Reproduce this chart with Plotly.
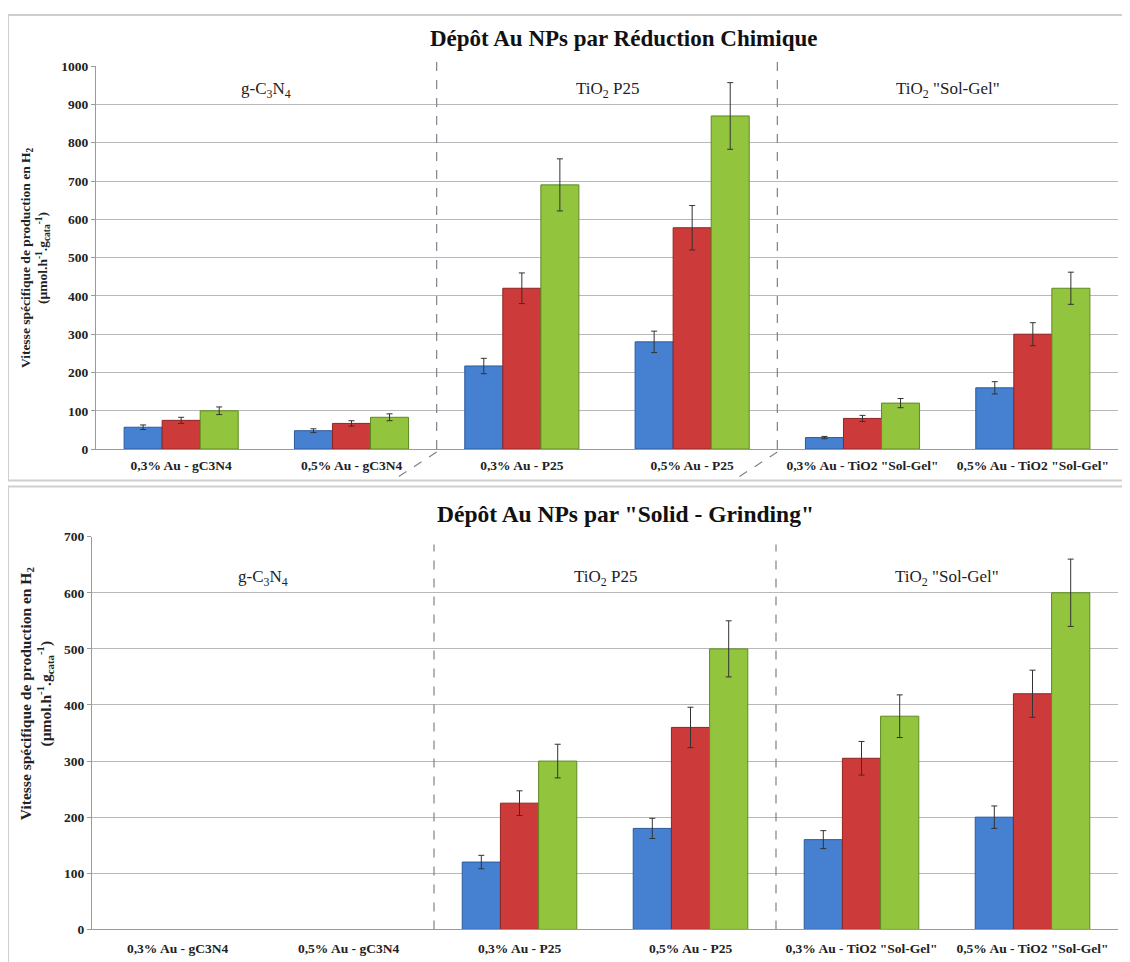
import plotly.graph_objects as go

categories = ["0,3% Au - gC3N4", "0,5% Au - gC3N4", "0,3% Au - P25", "0,5% Au - P25",
              "0,3% Au - TiO2 \"Sol-Gel\"", "0,5% Au - TiO2 \"Sol-Gel\""]

# Top panel: chemical reduction
top_blue = [57, 48, 217, 280, 30, 160]
top_red = [75, 67, 420, 578, 80, 300]
top_green = [100, 83, 690, 870, 120, 420]
top_blue_err = [6, 5, 20, 28, 3, 16]
top_red_err = [8, 7, 40, 58, 8, 30]
top_green_err = [10, 9, 68, 87, 12, 42]

# Bottom panel: solid grinding
bot_blue = [None, None, 120, 180, 160, 200]
bot_red = [None, None, 225, 360, 305, 420]
bot_green = [None, None, 300, 500, 380, 600]
bot_blue_err = [0, 0, 12, 18, 16, 20]
bot_red_err = [0, 0, 22, 36, 30, 42]
bot_green_err = [0, 0, 30, 50, 38, 60]

group_labels = ["g-C<sub>3</sub>N<sub>4</sub>", "TiO<sub>2</sub> P25", "TiO<sub>2</sub> \"Sol-Gel\""]

colors = ["#4680d0", "#cc3a3a", "#92c43e"]
lines = ["#2c5a9c", "#8e2424", "#5f8a22"]

# page body has an 8px margin: the figure starts at (8, 8) in the window
OFF = 8
W, H = 1130 - OFF, 962 - OFF


def px(x):
    return (x - OFF) / W


def py(y):
    return 1 - (y - OFF) / H


fig = go.Figure()


def add_bars(vals_list, errs_list, xa, ya):
    for vals, errs, c, lc in zip(vals_list, errs_list, colors, lines):
        fig.add_trace(go.Bar(
            x=categories, y=vals, xaxis=xa, yaxis=ya,
            marker=dict(color=c, line=dict(color=lc, width=1)),
            error_y=dict(type="data", array=errs, color="#333333", thickness=1, width=3),
            showlegend=False,
        ))


add_bars([top_blue, top_red, top_green], [top_blue_err, top_red_err, top_green_err], "x", "y")
add_bars([bot_blue, bot_red, bot_green], [bot_blue_err, bot_red_err, bot_green_err], "x2", "y2")

serif = "Liberation Serif"
bold_tick = dict(family=serif, size=13.5, color="#222222", weight="bold")

axis_common = dict(showline=True, linecolor="#9a9a9a", linewidth=1, ticks="outside",
                   ticklen=4, tickcolor="#9a9a9a")

fig.update_layout(
    width=W, height=H,
    margin=dict(l=0, r=0, t=0, b=0),
    paper_bgcolor="white", plot_bgcolor="white",
    barmode="group", bargap=0.33, bargroupgap=0,
    font=dict(family=serif),
    xaxis=dict(domain=[px(96), px(1118)], anchor="y", type="category",
               tickfont=bold_tick, ticks="", ticklabelstandoff=4,
               showline=True, linecolor="#9a9a9a"),
    yaxis=dict(domain=[py(449), py(60)], anchor="x", range=[0, 1000], dtick=100,
               gridcolor="#b8b8b8", gridwidth=1, tickfont=bold_tick, **axis_common),
    xaxis2=dict(domain=[px(92), px(1118)], anchor="y2", type="category",
                tickfont=bold_tick, ticks="", ticklabelstandoff=6,
                showline=True, linecolor="#9a9a9a"),
    yaxis2=dict(domain=[py(937), py(538)], anchor="x2", range=[0, 700], dtick=100,
                gridcolor="#b8b8b8", gridwidth=1, tickfont=bold_tick, **axis_common),
)

shapes = []
# panel borders
shapes.append(dict(type="rect", xref="paper", yref="paper", x0=px(8), x1=px(1126),
                   y0=py(481), y1=py(8), line=dict(color="#cfcfcf", width=2)))
shapes.append(dict(type="rect", xref="paper", yref="paper", x0=px(8), x1=px(1126),
                   y0=py(975), y1=py(487), line=dict(color="#cfcfcf", width=2)))
# group separators
for xv in [1.5, 3.5]:
    shapes.append(dict(type="line", xref="x", yref="y domain", x0=xv, x1=xv, y0=0, y1=1.03,
                       line=dict(color="#808090", width=1.2, dash="dash")))
    shapes.append(dict(type="line", xref="x2", yref="y2 domain", x0=xv, x1=xv, y0=0, y1=0.98,
                       line=dict(color="#808090", width=1.2, dash="dash")))
    shapes.append(dict(type="line", xref="x", yref="paper", x0=xv, x1=xv - 0.26,
                       y0=py(452), y1=py(481), line=dict(color="#808090", width=1.2, dash="dash")))
fig.update_layout(shapes=shapes)

ann = []
ann.append(dict(text="<b>Dépôt Au NPs par Réduction Chimique</b>", xref="paper", yref="paper",
                x=px(623), y=py(32), xanchor="center", yanchor="middle", showarrow=False,
                font=dict(family=serif, size=23, color="#111111")))
ann.append(dict(text="<b>Dépôt Au NPs par \"Solid - Grinding\"</b>", xref="paper", yref="paper",
                x=px(625), y=py(515), xanchor="center", yanchor="middle", showarrow=False,
                font=dict(family=serif, size=23.5, color="#111111")))
ytitle = ("<b>Vitesse spécifique de production en H<sub>2</sub><br>"
          "(µmol.h<sup>-1</sup>.g<sub>cata</sub><sup>-1</sup>)</b>")
ann.append(dict(text=ytitle, xref="paper", yref="paper", x=px(35), y=py(255), textangle=-90,
                xanchor="center", yanchor="middle", showarrow=False,
                font=dict(family=serif, size=13.5, color="#222222")))
ann.append(dict(text=ytitle, xref="paper", yref="paper", x=px(36), y=py(698), textangle=-90,
                xanchor="center", yanchor="middle", showarrow=False,
                font=dict(family=serif, size=15.5, color="#222222")))
for i, g in enumerate(group_labels):
    ann.append(dict(text=g, xref="x", yref="y domain", x=0.5 + 2 * i, y=0.938,
                    xanchor="center", yanchor="middle", showarrow=False,
                    font=dict(family=serif, size=17, color="#222222")))
    ann.append(dict(text=g, xref="x2", yref="y2 domain", x=0.5 + 2 * i, y=0.895,
                    xanchor="center", yanchor="middle", showarrow=False,
                    font=dict(family=serif, size=17, color="#222222")))
fig.update_layout(annotations=ann)

fig.write_html("out.html")
